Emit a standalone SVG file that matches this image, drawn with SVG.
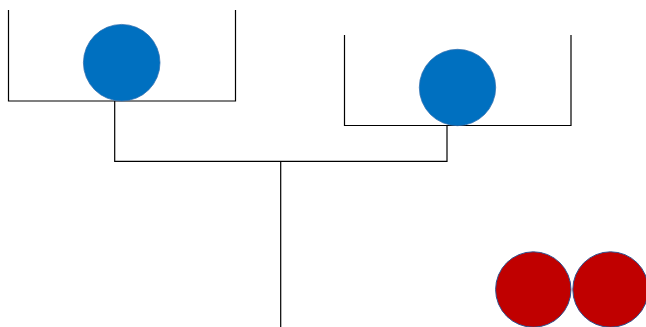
<svg xmlns="http://www.w3.org/2000/svg" width="646" height="327" viewBox="0 0 646 327">
<style>
.ln{fill:none;stroke:#000;stroke-width:1.2}
.blue{fill:#0070C0;stroke:#2F6FB0;stroke-width:0.75}
.red{fill:#C00000;stroke:#2F528F;stroke-width:1}
</style>
<rect width="646" height="327" fill="#fff"/>
<g id="cup-left"><polyline class="ln" points="8.5,10 8.5,101 235.5,101 235.5,10"/></g>
<g id="cup-right"><polyline class="ln" points="344.5,35 344.5,125.5 571,125.5 571,35"/></g>
<g id="connectors">
<polyline class="ln" points="114.7,101 114.7,161.3 447,161.3 447,125.5"/>
<line class="ln" x1="280.7" y1="161.3" x2="280.7" y2="327"/>
</g>
<g id="ball-left"><circle class="blue" cx="121.7" cy="62.7" r="38.3"/></g>
<g id="ball-right"><circle class="blue" cx="457.5" cy="87.5" r="38.2"/></g>
<g id="red-1"><circle class="red" cx="533.3" cy="289.5" r="37.7"/></g>
<g id="red-2"><circle class="red" cx="610.5" cy="289.5" r="37.7"/></g>
</svg>
